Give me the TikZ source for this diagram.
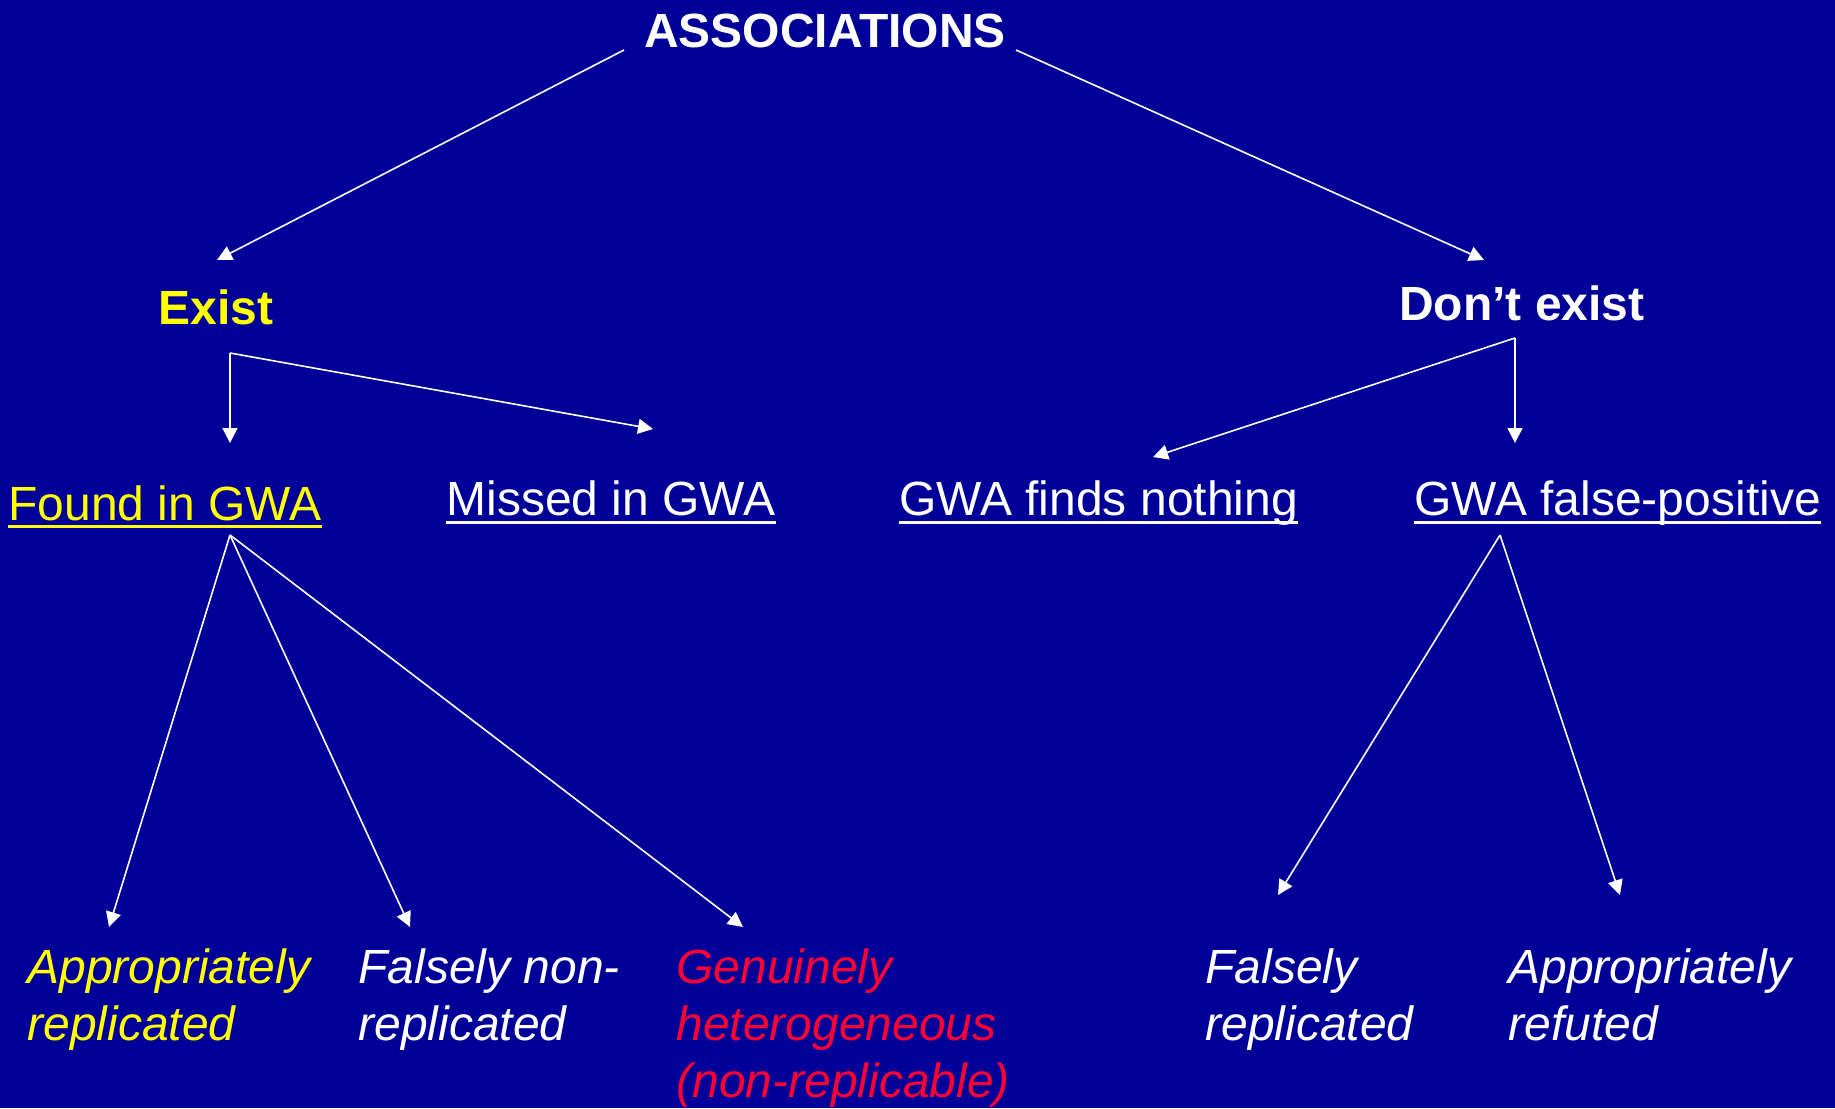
\documentclass[tikz,border=0pt]{standalone}
\usepackage{fontspec}
\setmainfont{Liberation Sans}
\usetikzlibrary{arrows.meta}
\definecolor{slideblue}{RGB}{0,0,153}
\definecolor{slidered}{RGB}{255,0,51}
\definecolor{slideyellow}{RGB}{255,255,0}

\begin{document}
\begin{tikzpicture}[x=0.5pt,y=-0.5pt,
	every node/.style={inner sep=0pt,anchor=base west,font=\fontsize{24}{28.5}\selectfont},
	head/.style={anchor=base,font=\fontsize{24}{28.5}\selectfont\bfseries},
	leaf/.style={align=left,font=\fontsize{24}{28.5}\selectfont\itshape},
	arr/.style={white,line width=0.8pt,-{Triangle[length=7.5pt,width=7.5pt]}},
	uline/.style={line width=1.5pt}]
	\fill[slideblue] (0,0) rectangle (1835,1108);
	\node[head,white] (assoc) at (825,47) {ASSOCIATIONS};
	\node[head,slideyellow] (exist) at (216,324) {Exist};
	\node[head,white] (noexist) at (1522,320) {Don’t exist};
	\node[slideyellow] (found) at (8,520) {Found in GWA};
	\node[white] (missed) at (446,515) {Missed in GWA};
	\node[white] (nothing) at (899,515) {GWA finds nothing};
	\node[white] (falsepos) at (1414,515) {GWA false-positive};
	\node[leaf,slideyellow] (apprep) at (27,1040) {Appropriately\\replicated};
	\node[leaf,white] (falsenon) at (358,1040) {Falsely non-\\replicated};
	\node[leaf,slidered] (hetero) at (676,1097) {Genuinely\\heterogeneous\\(non-replicable)};
	\node[leaf,white] (falserep) at (1205,1040) {Falsely\\replicated};
	\node[leaf,white] (appref) at (1508,1040) {Appropriately\\refuted};
	\draw[uline,slideyellow] ([yshift=-3pt]found.base west) -- ([yshift=-3pt]found.base east);
	\draw[uline,white] ([yshift=-3.5pt]missed.base west) -- ([yshift=-3.5pt]missed.base east);
	\draw[uline,white] ([yshift=-3.5pt]nothing.base west) -- ([yshift=-3.5pt]nothing.base east);
	\draw[uline,white] ([yshift=-3.5pt]falsepos.base west) -- ([yshift=-3.5pt]falsepos.base east);
	\coordinate (assoc-l) at (624,50);
	\coordinate (assoc-r) at (1016,50);
	\coordinate (exist-in) at (217,260);
	\coordinate (noexist-in) at (1484,260);
	\coordinate (exist-out) at (230,353);
	\coordinate (found-in) at (230,443);
	\coordinate (missed-in) at (653,429);
	\coordinate (noexist-out) at (1515,338);
	\coordinate (nothing-in) at (1153,457);
	\coordinate (falsepos-in) at (1515,443);
	\coordinate (found-out) at (230,535);
	\coordinate (apprep-in) at (109,927);
	\coordinate (falsenon-in) at (410,927);
	\coordinate (hetero-in) at (743,927);
	\coordinate (falsepos-out) at (1500,535);
	\coordinate (falserep-in) at (1278,895);
	\coordinate (appref-in) at (1620,895);
	\draw[arr] (assoc-l) -- (exist-in);
	\draw[arr] (assoc-r) -- (noexist-in);
	\draw[arr] (exist-out) -- (found-in);
	\draw[arr] (exist-out) -- (missed-in);
	\draw[arr] (noexist-out) -- (nothing-in);
	\draw[arr] (noexist-out) -- (falsepos-in);
	\draw[arr] (found-out) -- (apprep-in);
	\draw[arr] (found-out) -- (falsenon-in);
	\draw[arr] (found-out) -- (hetero-in);
	\draw[arr] (falsepos-out) -- (falserep-in);
	\draw[arr] (falsepos-out) -- (appref-in);
\end{tikzpicture}
\end{document}
